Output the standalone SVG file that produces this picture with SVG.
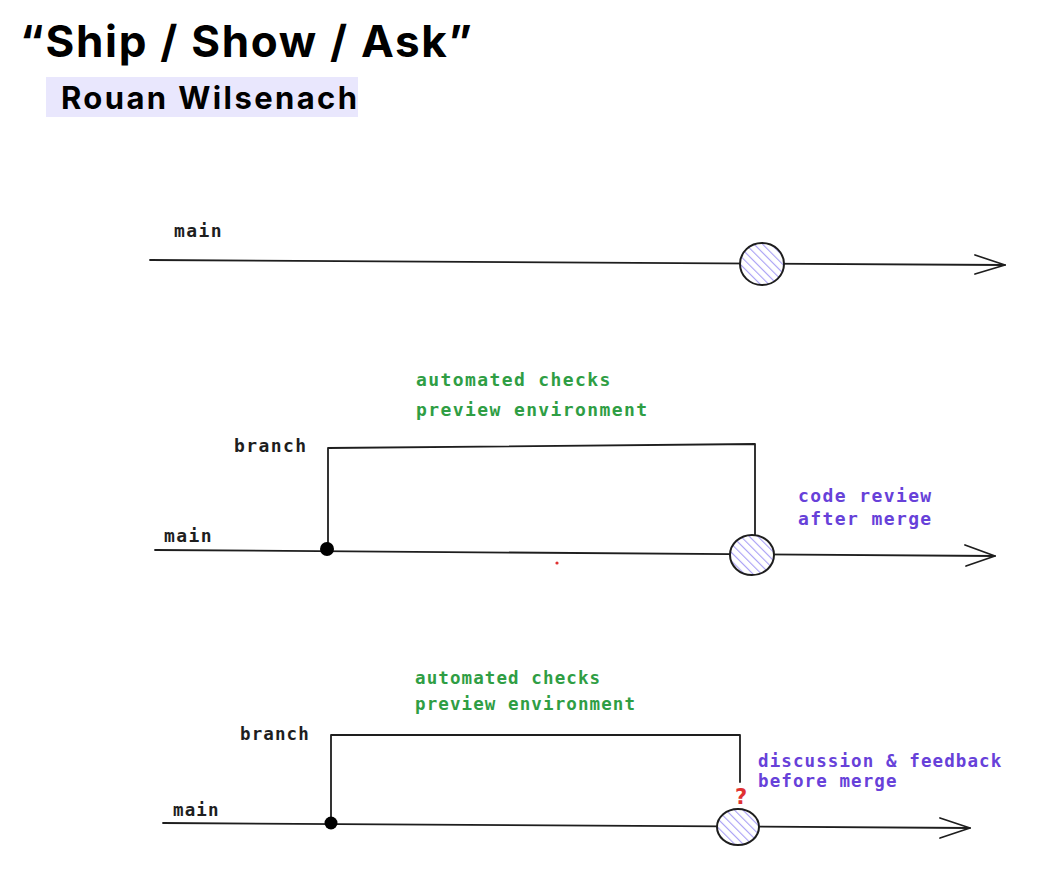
<svg xmlns="http://www.w3.org/2000/svg" width="1041" height="877" viewBox="0 0 1041 877">
<style>
.title{font-family:Inter,"Open Sans","Liberation Sans",sans-serif;font-weight:700;fill:#000}
.mono{font-family:"DejaVu Sans Mono","Liberation Mono",monospace;font-weight:700;font-size:18px;letter-spacing:1.4px}
.sm{font-size:17.5px;letter-spacing:1.1px}
.blk{fill:#1e1e1e}
.grn{fill:#2f9e44}
.vio{fill:#6741d9}
.ln{stroke:#1e1e1e;stroke-width:1.8;fill:none;stroke-linecap:round;stroke-linejoin:round}
.node{fill:url(#hatch);stroke:#1e1e1e;stroke-width:2}
</style>
<defs>
<pattern id="hatch" patternUnits="userSpaceOnUse" width="6" height="6" patternTransform="rotate(-45)">
<rect width="6" height="6" fill="#ffffff"/>
<line x1="0" y1="0" x2="0" y2="6" stroke="#a89ff5" stroke-width="2.2"/>
</pattern>
</defs>
<rect width="1041" height="877" fill="#ffffff"/>
<g id="title">
<text class="title" x="20" y="57" font-size="44" textLength="452">“Ship / Show / Ask”</text>
</g>
<g id="author">
<rect x="46" y="77" width="312" height="40" fill="#e9e7fd"/>
<text class="title" x="61" y="109" font-size="31" textLength="296">Rouan Wilsenach</text>
</g>
<g id="labels">
<text class="mono blk" x="174" y="237">main</text>
<text class="mono grn" x="416" y="386">automated checks</text>
<text class="mono grn" x="416" y="416">preview environment</text>
<text class="mono blk" x="234" y="452">branch</text>
<text class="mono blk" x="164" y="542">main</text>
<text class="mono vio" x="798" y="502">code review</text>
<text class="mono vio" x="798" y="525">after merge</text>
<text class="mono sm grn" x="415" y="684">automated checks</text>
<text class="mono sm grn" x="415" y="710">preview environment</text>
<text class="mono sm blk" x="240" y="740">branch</text>
<text class="mono sm blk" x="173" y="816">main</text>
<text class="mono sm vio" x="758" y="767">discussion &amp; feedback</text>
<text class="mono sm vio" x="758" y="787">before merge</text>
<text x="741" y="804" text-anchor="middle" style="font-family:'DejaVu Sans','Liberation Sans',sans-serif;font-weight:700;font-size:21px;fill:#e03131">?</text>
</g>
<g id="connectors">
<path class="ln" d="M150 260 L1005 265"/>
<path class="ln" d="M975 255 L1005 265 L975 274"/>
<path class="ln" d="M155 550 L995 556"/>
<path class="ln" d="M965 545 L995 556 L966 566"/>
<path class="ln" d="M328 549 L328 448 L755 444 L755 537"/>
<path class="ln" d="M163 823 L970 828"/>
<path class="ln" d="M940 818 L970 828 L940 838"/>
<path class="ln" d="M331 823 L331 735 L740 735 L740 782"/>
</g>
<g id="node-ship">
<ellipse class="node" cx="762" cy="264" rx="22" ry="21"/>
</g>
<g id="node-show-start">
<circle cx="327" cy="549" r="7" fill="#000"/>
</g>
<g id="node-show">
<ellipse class="node" cx="752" cy="555" rx="22" ry="20"/>
</g>
<g id="node-ask-start">
<circle cx="331" cy="823" r="6.5" fill="#000"/>
</g>
<g id="node-ask">
<ellipse class="node" cx="738" cy="827" rx="21" ry="18"/>
</g>
<circle cx="557" cy="563" r="1.6" fill="#e03131"/>
</svg>
